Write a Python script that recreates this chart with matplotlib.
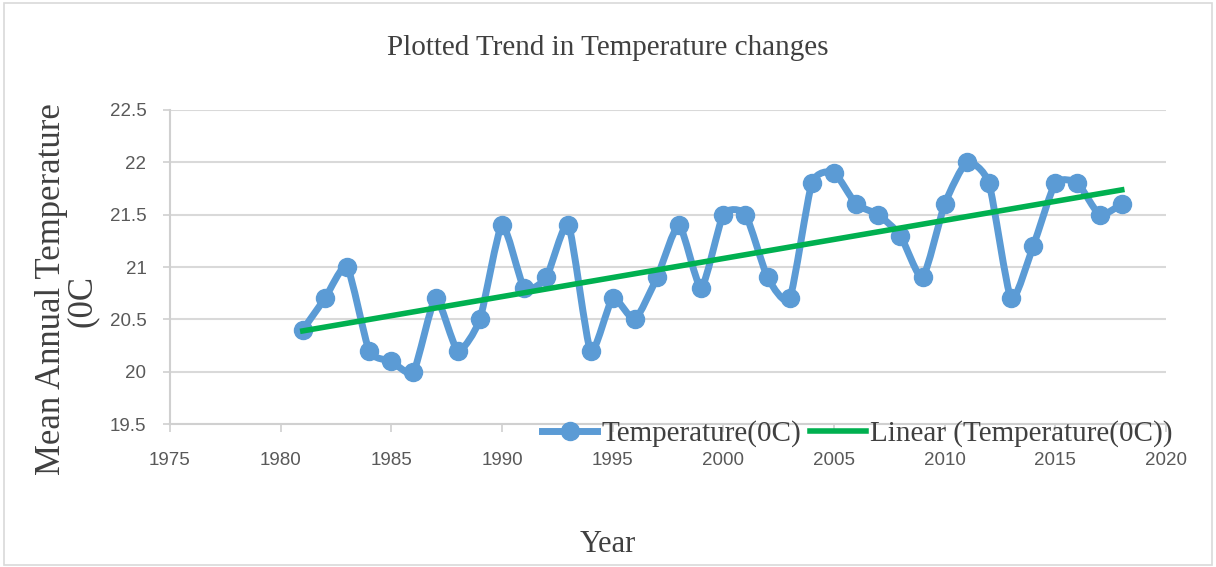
import numpy as np
import matplotlib
matplotlib.use("Agg")
import matplotlib.pyplot as plt
from matplotlib.path import Path
from matplotlib.patches import PathPatch, Rectangle
from matplotlib.lines import Line2D

years = list(range(1981, 2019))
temps = [20.4, 20.7, 21.0, 20.2, 20.1, 20.0, 20.7, 20.2, 20.5, 21.4,
         20.8, 20.9, 21.4, 20.2, 20.7, 20.5, 20.9, 21.4, 20.8, 21.5,
         21.5, 20.9, 20.7, 21.8, 21.9, 21.6, 21.5, 21.3, 20.9, 21.6,
         22.0, 21.8, 20.7, 21.2, 21.8, 21.8, 21.5, 21.6]
x_ticks = [1975, 1980, 1985, 1990, 1995, 2000, 2005, 2010, 2015, 2020]
y_ticks = [19.5, 20, 20.5, 21, 21.5, 22, 22.5]

blue = '#5B9BD5'
green = '#00B050'
serif = ['Liberation Serif', 'DejaVu Serif']
sans = ['Liberation Sans', 'DejaVu Sans']

fig = plt.figure(figsize=(12.16, 5.67), dpi=100)
ax = fig.add_axes([0.1398, 0.2522, 0.8191, 0.5538])

# lightly smoothed line like the spreadsheet (bezier through the points)
x = np.array(years, dtype=float)
y = np.array(temps)
verts = [(x[0], y[0])]
codes = [Path.MOVETO]
t = 1.0 / 10.0
for i in range(len(x) - 1):
    p0 = (x[max(i - 1, 0)], y[max(i - 1, 0)])
    p1 = (x[i], y[i])
    p2 = (x[i + 1], y[i + 1])
    p3 = (x[min(i + 2, len(x) - 1)], y[min(i + 2, len(x) - 1)])
    c1 = (p1[0] + (p2[0] - p0[0]) * t, p1[1] + (p2[1] - p0[1]) * t)
    c2 = (p2[0] - (p3[0] - p1[0]) * t, p2[1] - (p3[1] - p1[1]) * t)
    verts += [c1, c2, p2]
    codes += [Path.CURVE4] * 3
ax.add_patch(PathPatch(Path(verts, codes), facecolor='none', edgecolor=blue,
                       lw=5, zorder=3, capstyle='round', joinstyle='round'))
ax.plot(years, temps, 'o', color=blue, ms=13, zorder=4)

coef = np.polyfit(years, temps, 1)
ax.plot([years[0], years[-1]], np.polyval(coef, [years[0], years[-1]]),
        color=green, lw=4, zorder=5)

ax.set_xlim(1975, 2020)
ax.set_ylim(19.5, 22.5)
ax.set_xticks(x_ticks)
ax.set_yticks(y_ticks)
ax.set_yticklabels(['19.5', '20', '20.5', '21', '21.5', '22', '22.5'])
ax.grid(axis='y', color='#D9D9D9', lw=1.5)
ax.set_axisbelow(True)
for s in ['top', 'right']:
    ax.spines[s].set_visible(False)
for s in ['left', 'bottom']:
    ax.spines[s].set_color('#D0D0D0')
    ax.spines[s].set_linewidth(1.5)
ax.tick_params(axis='x', length=6, width=1.2, color='#D0D0D0', pad=14,
               labelsize=13.5, labelcolor='#595959')
ax.tick_params(axis='y', length=5, width=1.2, color='#D0D0D0', pad=12,
               labelsize=13.5, labelcolor='#595959')
for lab in ax.get_xticklabels() + ax.get_yticklabels():
    lab.set_family(sans)

fig.text(0.5, 0.915, 'Plotted Trend in Temperature changes', ha='center',
         va='center', fontsize=21, color='#404040', family=serif)
fig.text(0.5, 0.04, 'Year', ha='center', va='center', fontsize=22,
         color='#404040', family=serif)
fig.text(0.042, 0.49, 'Mean Annual Temperature', ha='center', va='center',
         rotation=90, fontsize=25, color='#404040', family=serif)
fig.text(0.068, 0.47, '(0C', ha='center', va='center',
         rotation=90, fontsize=25, color='#404040', family=serif)

handles = [Line2D([], [], color=blue, lw=5, marker='o', ms=13),
           Line2D([], [], color=green, lw=4)]
fig.legend(handles, ['Temperature(0C)', 'Linear (Temperature(0C))'],
           loc='center', bbox_to_anchor=(0.705, 0.235), ncol=2, frameon=False,
           prop={'family': serif, 'size': 21}, handlelength=1.9,
           handletextpad=0.15, columnspacing=0.3, labelcolor='#404040')

fig.patches.append(Rectangle((0.003, 0.003), 0.994, 0.992,
                             transform=fig.transFigure, fill=False,
                             edgecolor='#D9D9D9', lw=1.2))

fig.savefig('out.png', dpi=100)
